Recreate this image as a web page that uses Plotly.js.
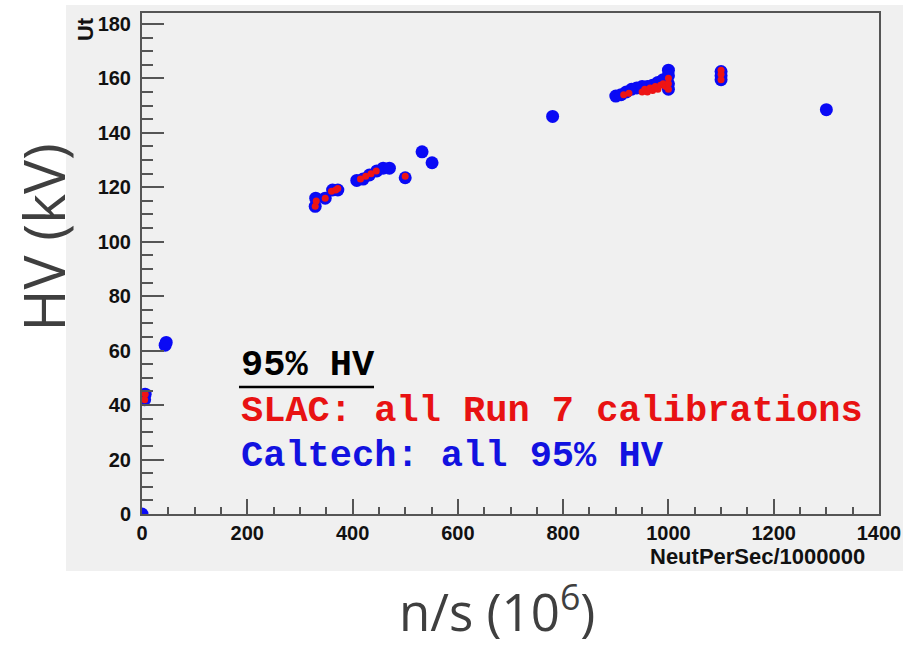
<!DOCTYPE html>
<html>
<head>
<meta charset="utf-8">
<script src="https://cdn.plot.ly/plotly-3.0.1.min.js"></script>
<style>
  html, body { margin: 0; padding: 0; background: #ffffff; }
  #chart { width: 903px; height: 647px; }
</style>
</head>
<body>
<div id="chart"></div>
<script>
// Caltech: all 95% HV measurements (neutrons per second / 1e6, HV in kV)
const caltechRate = [0, 5, 6, 44, 46,
  329, 330, 348, 362, 372,
  408, 420, 432, 446, 458, 470,
  500, 532, 551, 780,
  900, 910, 920, 930, 940, 950, 960, 970, 980, 990,
  1000, 1000, 1000, 1000,
  1100, 1100, 1100, 1300];
const caltechHV = [0, 42, 44, 62, 63,
  113, 116, 116, 119, 119,
  122.5, 123, 124.5, 126, 127, 127,
  123.5, 133, 129, 146,
  153.5, 154, 155, 156, 156.5, 157, 157, 157.5, 158.5, 159.5,
  163, 161, 158, 156,
  159.5, 161, 162.5, 148.5];

// SLAC: all Run 7 calibrations
const slacRate = [5, 6,
  329, 331, 348, 360, 368, 372,
  415, 425, 435, 445, 500,
  915, 925, 950, 955, 960, 965, 970, 975, 980, 985, 990, 995,
  1000, 1000, 1000,
  1100, 1100, 1100];
const slacHV = [42, 44,
  113, 115, 116, 118.5, 119, 119.5,
  123, 124, 125, 126, 124,
  154, 154.5, 155, 156, 155, 156.5, 155.5, 157, 156, 157.5, 158, 157,
  156, 158, 160,
  159.5, 161.5, 163];

// Axis ranges and tick labels
const xRange = [0, 1400];
const yRange = [0, 184];
const xTickVals = [0, 200, 400, 600, 800, 1000, 1200, 1400];
const yTickVals = [0, 20, 40, 60, 80, 100, 120, 140, 160, 180];

const axisGray = '#555555';
const tickFont = { family: 'Liberation Sans, Arial, sans-serif', size: 20, color: '#111111', weight: 'bold' };
const monoFont = 'Liberation Mono, Courier New, monospace';

const traces = [
  {
    x: caltechRate, y: caltechHV, type: 'scatter', mode: 'markers',
    name: 'Caltech', marker: { color: '#0a0af5', size: 13 }, hoverinfo: 'x+y'
  },
  {
    x: slacRate, y: slacHV, type: 'scatter', mode: 'markers',
    name: 'SLAC', marker: { color: '#ee1414', size: 7 }, hoverinfo: 'x+y'
  }
];

const layout = {
  width: 903, height: 647,
  margin: { l: 142, r: 24, t: 13, b: 133 },
  paper_bgcolor: '#ffffff',
  plot_bgcolor: '#f0f0f0',
  showlegend: false,
  xaxis: {
    range: xRange, tickvals: xTickVals, ticktext: xTickVals.map(String),
    showgrid: false, zeroline: false,
    showline: true, linecolor: axisGray, linewidth: 2, mirror: true,
    ticks: 'inside', ticklen: 15, tickwidth: 2, tickcolor: axisGray,
    minor: { dtick: 50, ticks: 'inside', ticklen: 7, tickwidth: 2, tickcolor: axisGray },
    tickfont: tickFont, ticklabelstandoff: 0
  },
  yaxis: {
    range: yRange, tickvals: yTickVals, ticktext: yTickVals.map(String),
    showgrid: false, zeroline: false,
    showline: true, linecolor: axisGray, linewidth: 2, mirror: true,
    ticks: 'inside', ticklen: 22, tickwidth: 2, tickcolor: axisGray,
    minor: { dtick: 5, ticks: 'inside', ticklen: 11, tickwidth: 2, tickcolor: axisGray },
    tickfont: tickFont, ticklabelstandoff: 5
  },
  shapes: [
    // light gray panel behind the whole frame
    { type: 'rect', xref: 'paper', yref: 'paper', layer: 'below',
      x0: -0.1031, x1: 1.0326, y0: -0.1138, y1: 1.016,
      fillcolor: '#f0f0f0', line: { width: 0 } },
    // underline of the legend heading
    { type: 'line', xref: 'paper', yref: 'paper',
      x0: 0.1316, x1: 0.3148, y0: 0.2535, y1: 0.2535,
      line: { color: '#000000', width: 2.5 } }
  ],
  annotations: [
    { text: 'HV (kV)', xref: 'paper', yref: 'paper', x: -0.1343, y: 0.552,
      textangle: -90, showarrow: false, xanchor: 'center', yanchor: 'middle',
      font: { family: 'Open Sans, Noto Sans, sans-serif', size: 57, color: '#3f3f3f' } },
    { text: 'n/s (10<sup>6</sup>)', xref: 'paper', yref: 'paper', x: 0.4817, y: -0.189,
      showarrow: false, xanchor: 'center', yanchor: 'middle',
      font: { family: 'Open Sans, Noto Sans, sans-serif', size: 51, color: '#3f3f3f' } },
    { text: 'NeutPerSec/1000000', xref: 'paper', yref: 'paper', x: 0.9837, y: -0.084,
      showarrow: false, xanchor: 'right', yanchor: 'middle',
      font: { family: 'Liberation Sans, Arial, sans-serif', size: 22, color: '#111111', weight: 'bold' } },
    { text: 'Ut', xref: 'paper', yref: 'paper', x: -0.0773, y: 0.968,
      textangle: -90, showarrow: false, xanchor: 'center', yanchor: 'middle',
      font: { family: 'Liberation Sans, Arial, sans-serif', size: 22, color: '#111111', weight: 'bold' } },
    { text: '95% HV', xref: 'paper', yref: 'paper', x: 0.1316, y: 0.2974,
      showarrow: false, xanchor: 'left', yanchor: 'middle',
      font: { family: monoFont, size: 37, color: '#000000', weight: 'bold' } },
    { text: 'SLAC: all Run 7 calibrations', xref: 'paper', yref: 'paper', x: 0.1316, y: 0.2056,
      showarrow: false, xanchor: 'left', yanchor: 'middle',
      font: { family: monoFont, size: 37, color: '#e81212', weight: 'bold' } },
    { text: 'Caltech: all 95% HV', xref: 'paper', yref: 'paper', x: 0.1316, y: 0.1158,
      showarrow: false, xanchor: 'left', yanchor: 'middle',
      font: { family: monoFont, size: 37, color: '#1212e0', weight: 'bold' } }
  ]
};

Plotly.newPlot('chart', traces, layout, { displayModeBar: false, staticPlot: true });
</script>
</body>
</html>
